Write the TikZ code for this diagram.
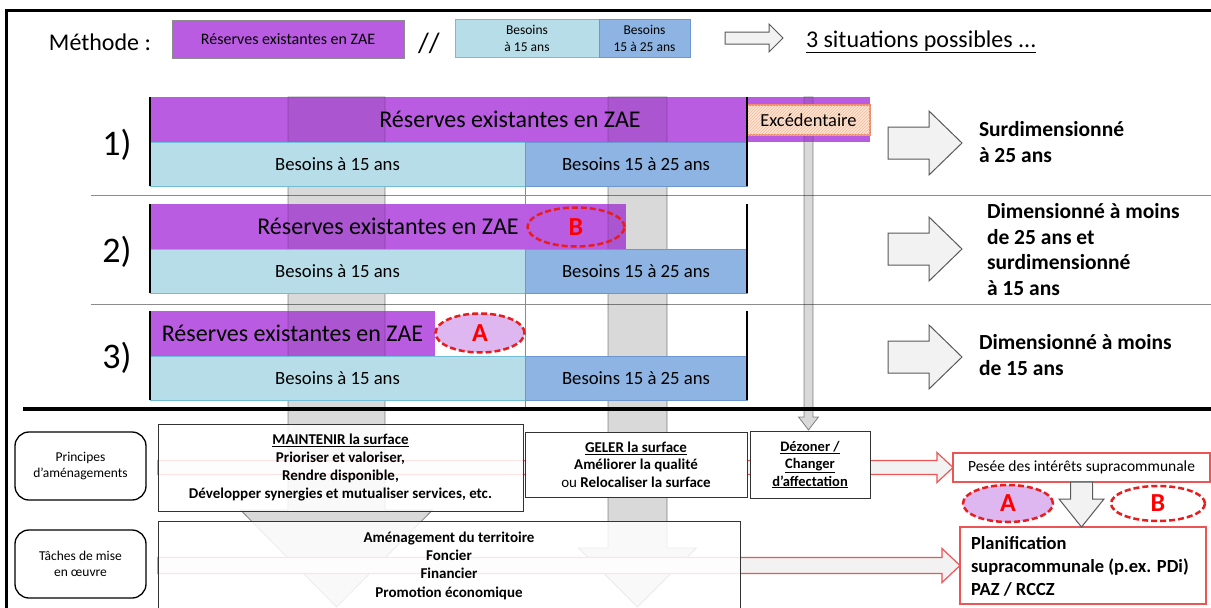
\documentclass[tikz,border=0pt]{standalone}
\usepackage{fontspec}
\setmainfont{Carlito}
\usetikzlibrary{calc,patterns,shapes.geometric}
\definecolor{purp}{RGB}{185,92,225}
\definecolor{lblue}{RGB}{183,221,232}
\definecolor{dblue}{RGB}{141,180,226}
\definecolor{lbbd}{RGB}{115,190,215}
\definecolor{dbbd}{RGB}{110,150,210}
\definecolor{peach}{RGB}{251,229,214}
\definecolor{salmon}{RGB}{240,140,110}
\definecolor{hatchc}{RGB}{245,185,150}
\definecolor{redA}{RGB}{232,30,30}
\definecolor{lpurp}{RGB}{222,182,240}
\definecolor{arrfill}{RGB}{242,242,242}
\definecolor{arrdraw}{RGB}{89,89,89}
\definecolor{redarr}{RGB}{236,85,85}
\definecolor{sepc}{RGB}{140,140,140}
\newcommand{\fsz}[2]{\fontsize{#1}{#2}\selectfont}
% right-pointing block arrow: style, start, tip, shaft half, head half, head length
\newcommand{\blkH}[6]{\path[#1] ($(#2)+(0,-#4)$) -- ($(#3)+(-#6,-#4)$) -- ($(#3)+(-#6,-#5)$) -- (#3) -- ($(#3)+(-#6,#5)$) -- ($(#3)+(-#6,#4)$) -- ($(#2)+(0,#4)$) -- cycle;}
% down-pointing block arrow
\newcommand{\blkV}[6]{\path[#1] ($(#2)+(-#4,0)$) -- ($(#3)+(-#4,-#6)$) -- ($(#3)+(-#5,-#6)$) -- (#3) -- ($(#3)+(#5,-#6)$) -- ($(#3)+(#4,-#6)$) -- ($(#2)+(#4,0)$) -- cycle;}
\begin{document}
\begin{tikzpicture}[x=1pt,y=-1pt,
  every node/.style={inner sep=0pt, outer sep=0pt},
  pbar/.style={rectangle, fill=purp, draw=none},
  lbar/.style={rectangle, fill=lblue, draw=lbbd, line width=0.8pt, minimum width=375pt, minimum height=44pt},
  dbar/.style={rectangle, fill=dblue, draw=dbbd, line width=0.8pt, minimum width=222pt, minimum height=44pt},
  band/.style={fill=black, fill opacity=0.15, draw=black, draw opacity=0.45, line width=0.8pt},
  grayarrow/.style={fill=arrfill, draw=arrdraw, line width=1pt},
  redarrow/.style={fill=arrfill, draw=redarr, line width=1.2pt},
  dashell/.style={ellipse, draw=redA, line width=2.5pt, dash pattern=on 6pt off 3pt, text=red, font=\bfseries\fsz{26}{28}},
  bigtxt/.style={font=\fsz{24}{28}},
  btxt/.style={font=\fsz{18.7}{22}},
  numtxt/.style={font=\fsz{36}{40}},
  lbl/.style={anchor=west, align=left, font=\bfseries\fsz{21.5}{25.8}},
  wbox/.style={rectangle, draw=black!80, line width=1pt, fill=white},
  rbox/.style={rectangle, rounded corners=14pt, draw=black, line width=1.3pt, minimum width=131pt, minimum height=68pt, align=center, font=\fsz{13.5}{16.5}},
  redbox/.style={rectangle, draw=redarr, line width=1.3pt, fill=white},
  sepline/.style={draw=sepc, line width=1pt},
  blk/.style={line width=1.6pt}
]
\useasboundingbox (0,0) rectangle (1211,608);
\fill[white] (0,0) rectangle (1211,608);
% frame
\draw[line width=3pt] (6,610) -- (6,10) -- (1213,10);

% ---------- legend ----------
\node[font=\fsz{24}{28}] (meth) at (100,42) {Méthode :};
\node[rectangle, fill=purp, draw=black!45, line width=0.8pt, minimum width=232pt, minimum height=38pt, font=\fsz{16}{18}] (lp) at (288,39) {Réserves existantes en ZAE};
\node[font=\fsz{28}{30}] (sl) at (429,43) {//};
\node[rectangle, fill=lblue, draw=lbbd, line width=0.8pt, minimum width=144pt, minimum height=38pt, align=center, font=\fsz{13.5}{17.5}] (lb1) at (527,38.5) {Besoins\\à 15 ans};
\node[rectangle, fill=dblue, draw=dbbd, line width=0.8pt, minimum width=91pt, minimum height=38pt, align=center, font=\fsz{13.5}{17.5}] (lb2) at (644.5,38.5) {Besoins\\15 à 25 ans};
\coordinate (la1) at (725,38);
\coordinate (la2) at (783,38);
\blkH{grayarrow}{la1}{la2}{6}{14}{14}
\node[anchor=west, font=\fsz{24}{28}] (sit) at (806,42) {\underline{3 situations possibles ...}};

% ---------- rows: purple bars ----------
\node[pbar, minimum width=720pt, minimum height=45pt] (r1p) at (510,119.5) {};
\node[pbar, minimum width=476pt, minimum height=45pt] (r2p) at (388,226.5) {};
\node[pbar, minimum width=285pt, minimum height=45pt] (r3p) at (292.5,333.5) {};

% separators
\draw[sepline] (91,195) -- (1213,195);
\draw[sepline] (91,304) -- (1213,304);
\draw[draw=black!45, line width=0.8pt] (525,97) -- (525,408);

% gray background bands (arrows)
\coordinate (b1s) at (336.5,97); \coordinate (b1t) at (336.5,607);
\coordinate (b2s) at (637.5,97); \coordinate (b2t) at (637.5,607);
\coordinate (b3s) at (808.5,97); \coordinate (b3t) at (808.5,430);
\blkV{band}{b1s}{b1t}{48.5}{96}{97}
\blkV{band}{b2s}{b2t}{29.5}{59}{59}
\blkV{band}{b3s}{b3t}{4.5}{10}{13}
% soften the bands where they cross the purple bars
\fill[purp, fill opacity=0.5] (r1p.north west) rectangle (r1p.south east);
\fill[purp, fill opacity=0.5] (r2p.north west) rectangle (r2p.south east);
\fill[purp, fill opacity=0.5] (r3p.north west) rectangle (r3p.south east);

% blue bars
\node[lbar] (r1l) at (337.5,164) {};
\node[dbar] (r1d) at (636,164) {};
\node[lbar] (r2l) at (337.5,271) {};
\node[dbar] (r2d) at (636,271) {};
\node[lbar] (r3l) at (337.5,378) {};
\node[dbar] (r3d) at (636,378) {};

% excess
\node[rectangle, minimum width=123pt, minimum height=30pt, fill=peach, draw=salmon, line width=1.2pt,
      postaction={pattern=north east lines, pattern color=hatchc}, font=\fsz{18.4}{21}] (exc) at (808.5,120) {Excédentaire};

% black vertical lines
\draw[blk] (r1p.north west) -- (r1l.south west);
\draw[blk] (r1d.north east |- r1p.north) -- (r1d.south east);
\draw[blk] (r2p.north west) -- (r2l.south west);
\draw[blk] (r2d.north east |- r2p.north) -- (r2d.south east);
\draw[blk] (r3p.north west) -- (r3l.south west);
\draw[blk] (r3d.north east |- r3p.north) -- (r3d.south east);

% bar texts
\node[bigtxt] (t1p) at (r1p) {Réserves existantes en ZAE};
\node[bigtxt] (t2p) at (r2p) {Réserves existantes en ZAE};
\node[bigtxt] (t3p) at (r3p) {Réserves existantes en ZAE};
\node[btxt] (t1l) at (r1l) {Besoins à 15 ans};
\node[btxt] (t1d) at (r1d) {Besoins 15 à 25 ans};
\node[btxt] (t2l) at (r2l) {Besoins à 15 ans};
\node[btxt] (t2d) at (r2d) {Besoins 15 à 25 ans};
\node[btxt] (t3l) at (r3l) {Besoins à 15 ans};
\node[btxt] (t3d) at (r3d) {Besoins 15 à 25 ans};

% ellipses A / B in rows
\node[dashell, minimum width=97pt, minimum height=39pt] (eB1) at (576,227) {B};
\node[dashell, fill=lpurp, minimum width=89pt, minimum height=39pt] (eA1) at (480,333) {A};

% row numbers
\node[numtxt] (n1) at (117,145) {1)};
\node[numtxt] (n2) at (117,252) {2)};
\node[numtxt] (n3) at (117,358) {3)};

% right arrows and labels
\coordinate (ra1) at (888,143); \coordinate (rt1) at (962,143);
\coordinate (ra2) at (888,249); \coordinate (rt2) at (962,249);
\coordinate (ra3) at (888,357); \coordinate (rt3) at (962,357);
\blkH{grayarrow}{ra1}{rt1}{16}{32}{33}
\blkH{grayarrow}{ra2}{rt2}{16}{32}{33}
\blkH{grayarrow}{ra3}{rt3}{16}{32}{33}
\node[lbl] (l1) at (979,142) {Surdimensionné\\à 25 ans};
\node[lbl] (l2) at (987,249.5) {Dimensionné à moins\\de 25 ans et\\surdimensionné\\à 15 ans};
\node[lbl] (l3) at (979,355) {Dimensionné à moins\\de 15 ans};

% ---------- lower part ----------
\draw[line width=4pt] (23,409) -- (1213,409);

\node[rbox] (rb1) at (80.5,466) {Principes\\d’aménagements};
\node[rbox] (rb2) at (80.5,564) {Tâches de mise\\en œuvre};

% right side boxes
\node[redbox, minimum width=257pt, minimum height=29pt, font=\fsz{15.5}{18}] (pesee) at (1081.5,467.5) {Pesée des intérêts supracommunale};
\node[redbox, minimum width=246pt, minimum height=77pt] (plan) at (1083,565.5) {};
\node[anchor=west, align=left, font=\bfseries\fsz{18.5}{23}] (plant) at (971,566) {Planification\\supracommunale (p.ex. PDi)\\PAZ / RCCZ};
\node[dashell, fill=lpurp, minimum width=90pt, minimum height=37pt] (eA2) at (1008,503.5) {A};
\node[dashell, minimum width=94pt, minimum height=35pt] (eB2) at (1158,503.5) {B};
\coordinate (dpt) at (pesee.south |- plan.north);
\blkV{grayarrow}{pesee.south}{dpt}{11}{22.5}{28}

% red arrows (behind the boxes)
\coordinate (ra1s) at (158,467.5);
\coordinate (ra2s) at (158,565.5);
\blkH{redarrow}{ra1s}{pesee.west}{7}{15}{16}
\blkH{redarrow}{ra2s}{plan.west}{8}{17}{18}

% boxes
\node[wbox, fill opacity=0.85, text opacity=1, minimum width=365pt, minimum height=87pt, align=center, font=\bfseries\fsz{15}{18}] (maint) at (340.5,467.5)
  {\underline{MAINTENIR la surface}\\Prioriser et valoriser,\\Rendre disponible,\\Développer synergies et mutualiser services, etc.};
\node[wbox, minimum width=222pt, minimum height=65pt, align=center, font=\bfseries\fsz{15}{17.5}] (geler) at (636,464.5)
  {\underline{GELER la surface}\\Améliorer la qualité\\{\mdseries ou} Relocaliser la surface};
\node[wbox, minimum width=120pt, minimum height=67pt, align=center, font=\bfseries\fsz{14.5}{17.5}] (dezo) at (810,464.5)
  {\underline{Dézoner /}\\\underline{Changer}\\\underline{d’affectation}};
\node[wbox, fill opacity=0.85, minimum width=582pt, minimum height=100pt] (botb) at (449,571) {};
\node[align=center, font=\bfseries\fsz{15}{18.3}] (bott) at (449,565.5)
  {Aménagement du territoire\\Foncier\\Financier\\Promotion économique};
\end{tikzpicture}
\end{document}
